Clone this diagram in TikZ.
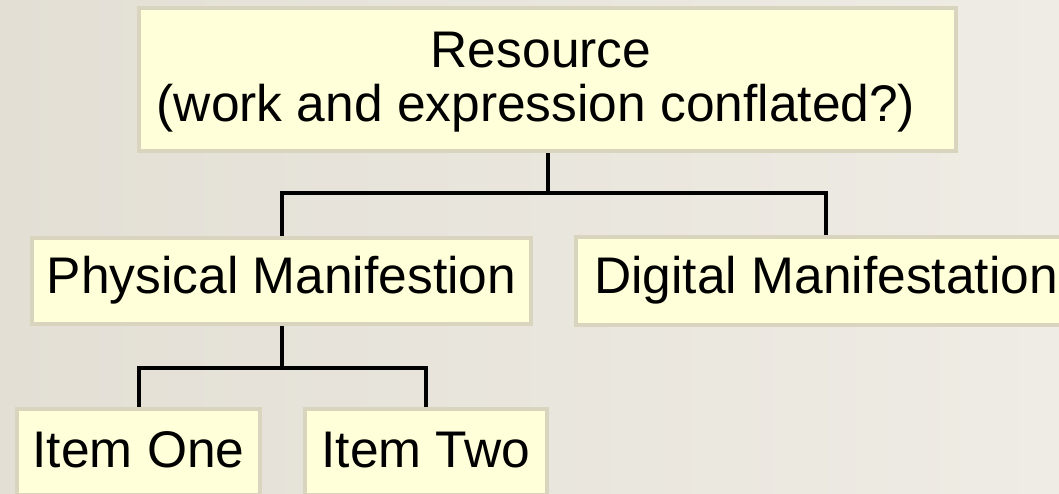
\documentclass[tikz,border=0pt]{standalone}
\usepackage{fontspec}
\setmainfont{Liberation Sans}
\definecolor{bgA}{HTML}{E3DFD5}
\definecolor{bgB}{HTML}{EFECE5}
\definecolor{boxfill}{HTML}{FFFFDA}
\definecolor{boxline}{HTML}{D9D4BE}
\begin{document}
\begin{tikzpicture}[x=1pt,y=-1pt,
  box/.style={draw=boxline, fill=boxfill, line width=4pt, inner sep=0pt,
    font=\fontsize{51.5}{54}\selectfont, align=center},
  oneline/.style={box, text height=37pt, text depth=11.5pt},
  itembox/.style={box, text height=37pt, text depth=5.5pt},
  conn/.style={draw=black, line width=4pt}]
  \useasboundingbox (0,0) rectangle (1059,494);
  \shade[left color=bgA, right color=bgB] (0,0) rectangle (1059,494);
  \node[box, minimum width=817pt, minimum height=143pt] (res) at (547.5,79.5)
    {\rule{0pt}{41.5pt}Resource\hspace*{13pt}\\(work and expression conflated?)\hspace*{23pt}};
  \node[oneline, minimum width=499pt, minimum height=86pt] (phys) at (281.5,281) {Physical Manifestion};
  \node[oneline, minimum width=500pt, minimum height=88pt] (dig) at (826,281) {Digital Manifestation};
  \node[itembox, minimum width=243pt, minimum height=86pt] (one) at (138.5,452) {Item One};
  \node[itembox, minimum width=242pt, minimum height=86pt] (two) at (426,452) {Item Two};
  \draw[conn] (res.south) -- ++(0,40) coordinate (j1);
  \draw[conn] (j1) -| (phys.north);
  \draw[conn] (j1) -| (dig.north);
  \draw[conn] (phys.south) -- ++(0,42) coordinate (j2);
  \draw[conn] (j2) -| (one.north);
  \draw[conn] (j2) -| (two.north);
\end{tikzpicture}
\end{document}
